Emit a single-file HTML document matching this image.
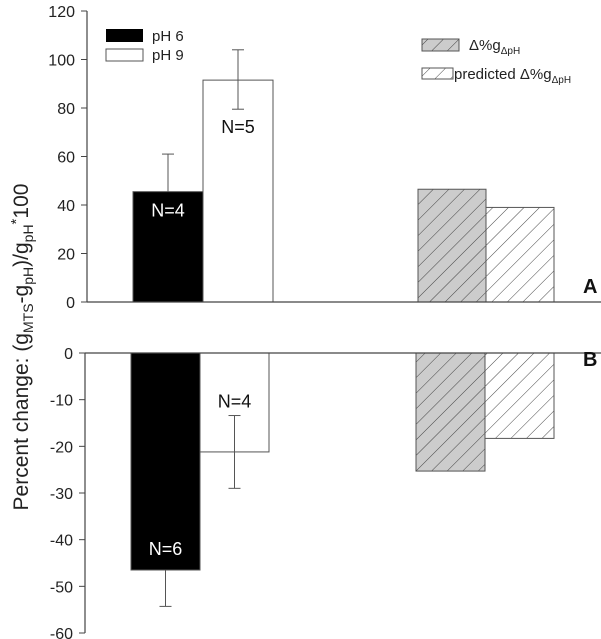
<!DOCTYPE html>
<html><head><meta charset="utf-8"><style>
html,body{margin:0;padding:0;background:#fff}
svg{display:block;font-family:"Liberation Sans",Arial,sans-serif}
</style></head><body>
<svg id="chart" width="601" height="639" viewBox="0 0 601 639" xmlns="http://www.w3.org/2000/svg">
<defs>
<pattern id="hatch" patternUnits="userSpaceOnUse" width="11" height="11" patternTransform="rotate(45)">
<line x1="0" y1="0" x2="0" y2="11" stroke="#333" stroke-width="0.9"/>
</pattern>
</defs>
<text transform="translate(28,347) rotate(-90)" text-anchor="middle" font-size="21" fill="#222">Percent change: (g<tspan font-size="14" dy="5">MTS</tspan><tspan dy="-5">-g</tspan><tspan font-size="14" dy="5">pH</tspan><tspan dy="-5">)/g</tspan><tspan font-size="14" dy="5">pH</tspan><tspan dy="-12" font-size="15">*</tspan><tspan dy="7">100</tspan></text>
<g id="plot"></g>
</svg>
<script>
const topTicks=[0,20,40,60,80,100,120];
const botTicks=[0,-10,-20,-30,-40,-50,-60];
const topMeans=[45.5,91.5];
const topErr=[61,104];
const topErrLow=[45.5,79.5];
const topN=["N=4","N=5"];
const topPred=[46.5,39];
const botMeans=[-46.5,-21.2];
const botErr=[-54.3,-29];
const botErrHigh=[-46.5,-13.4];
const botN=["N=6","N=4"];
const botPred=[-25.3,-18.3];

const NS="http://www.w3.org/2000/svg";
const g=document.getElementById('plot');
function mk(t,a,p){const e=document.createElementNS(NS,t);for(const k in a)e.setAttribute(k,a[k]);(p||g).appendChild(e);return e;}
const yTop=v=>302-(v/120)*291;
const yBot=v=>353+(-v/60)*280;

// axes
let e;
e=mk('line',{x1:87,y1:yTop(120),x2:87,y2:302,stroke:'#444','stroke-width':1.2});


e=mk('line',{x1:85,y1:353,x2:85,y2:yBot(-60),stroke:'#444','stroke-width':1.2});


topTicks.forEach(v=>{const y=yTop(v);
 mk('line',{x1:81,y1:y,x2:87,y2:y,stroke:'#444'});
 e=mk('text',{x:75,y:y+6,'text-anchor':'end','font-size':16,fill:'#222'});e.textContent=v;
 
 });
botTicks.forEach(v=>{const y=yBot(v);
 mk('line',{x1:79,y1:y,x2:85,y2:y,stroke:'#444'});
 e=mk('text',{x:73,y:y+6,'text-anchor':'end','font-size':16,fill:'#222'});e.textContent=v;
 
 });

// bars top
const tx=[133,203], tw=70, txr=[418,486];
topMeans.forEach((v,i)=>{
 e=mk('rect',{x:tx[i],y:yTop(v),width:tw,height:302-yTop(v),fill:i?'#fff':'#000',stroke:'#555','stroke-width':1});
 
 
 const cx=tx[i]+tw/2;
 mk('line',{x1:cx,y1:yTop(topErrLow[i]),x2:cx,y2:yTop(topErr[i]),stroke:'#555'});
 mk('line',{x1:cx-6,y1:yTop(topErr[i]),x2:cx+6,y2:yTop(topErr[i]),stroke:'#555'});
 if(i) mk('line',{x1:cx-6,y1:yTop(topErrLow[i]),x2:cx+6,y2:yTop(topErrLow[i]),stroke:'#555'});
 e=mk('text',{x:cx,y:i?yTop(v)+53:yTop(v)+25,'text-anchor':'middle','font-size':18,fill:i?'#111':'#fff'});e.textContent=topN[i];
 
 
});
topPred.forEach((v,i)=>{
 if(i===0) mk('rect',{x:txr[i],y:yTop(v),width:68,height:302-yTop(v),fill:'#ccc'});
 e=mk('rect',{x:txr[i],y:yTop(v),width:68,height:302-yTop(v),fill:'url(#hatch)',stroke:'#555'});
 
 
});
mk('line',{x1:87,y1:302,x2:601,y2:302,stroke:'#444','stroke-width':1.2});
// bars bottom
const bx=[131,200], bxr=[416,485];
botMeans.forEach((v,i)=>{
 e=mk('rect',{x:bx[i],y:353,width:69,height:yBot(v)-353,fill:i?'#fff':'#000',stroke:'#555'});
 
 
 const cx=bx[i]+34.5;
 const y1=i?yBot(botErrHigh[i]):yBot(v);
 mk('line',{x1:cx,y1:y1,x2:cx,y2:yBot(botErr[i]),stroke:'#555'});
 mk('line',{x1:cx-6,y1:yBot(botErr[i]),x2:cx+6,y2:yBot(botErr[i]),stroke:'#555'});
 if(i) mk('line',{x1:cx-6,y1:y1,x2:cx+6,y2:y1,stroke:'#555'});
 e=mk('text',{x:cx,y:i?yBot(botErrHigh[i])-8:yBot(v)-15,'text-anchor':'middle','font-size':18,fill:i?'#111':'#fff'});e.textContent=botN[i];
 
 
});
botPred.forEach((v,i)=>{
 if(i===0) mk('rect',{x:bxr[i],y:353,width:69,height:yBot(v)-353,fill:'#ccc'});
 e=mk('rect',{x:bxr[i],y:353,width:69,height:yBot(v)-353,fill:'url(#hatch)',stroke:'#555'});
 
 
});
mk('line',{x1:85,y1:353,x2:601,y2:353,stroke:'#444','stroke-width':1.2});
// panel labels
e=mk('text',{x:583,y:293,'font-size':20,'font-weight':'bold',fill:'#111'});e.textContent='A';


e=mk('text',{x:583,y:366,'font-size':20,'font-weight':'bold',fill:'#111'});e.textContent='B';


// legends
e=mk('rect',{x:106,y:29,width:37,height:13,fill:'#000'});


e=mk('rect',{x:106,y:49,width:37,height:12,fill:'#fff',stroke:'#555'});


e=mk('text',{x:152,y:41,'font-size':15,fill:'#222'});e.textContent='pH 6';


e=mk('text',{x:152,y:60,'font-size':15,fill:'#222'});e.textContent='pH 9';


mk('rect',{x:422,y:39,width:37,height:12,fill:'#ccc'});
e=mk('rect',{x:422,y:39,width:37,height:12,fill:'url(#hatch)',stroke:'#555'});


e=mk('rect',{x:422,y:68,width:31,height:11,fill:'url(#hatch)',stroke:'#555'});


e=mk('text',{x:469,y:50,'font-size':15,fill:'#222'});
e.innerHTML='Δ%g<tspan font-size="10" dy="4">ΔpH</tspan>';


e=mk('text',{x:454,y:79,'font-size':15,fill:'#222'});
e.innerHTML='predicted Δ%g<tspan font-size="10" dy="4">ΔpH</tspan>';


</script>
</body></html>
